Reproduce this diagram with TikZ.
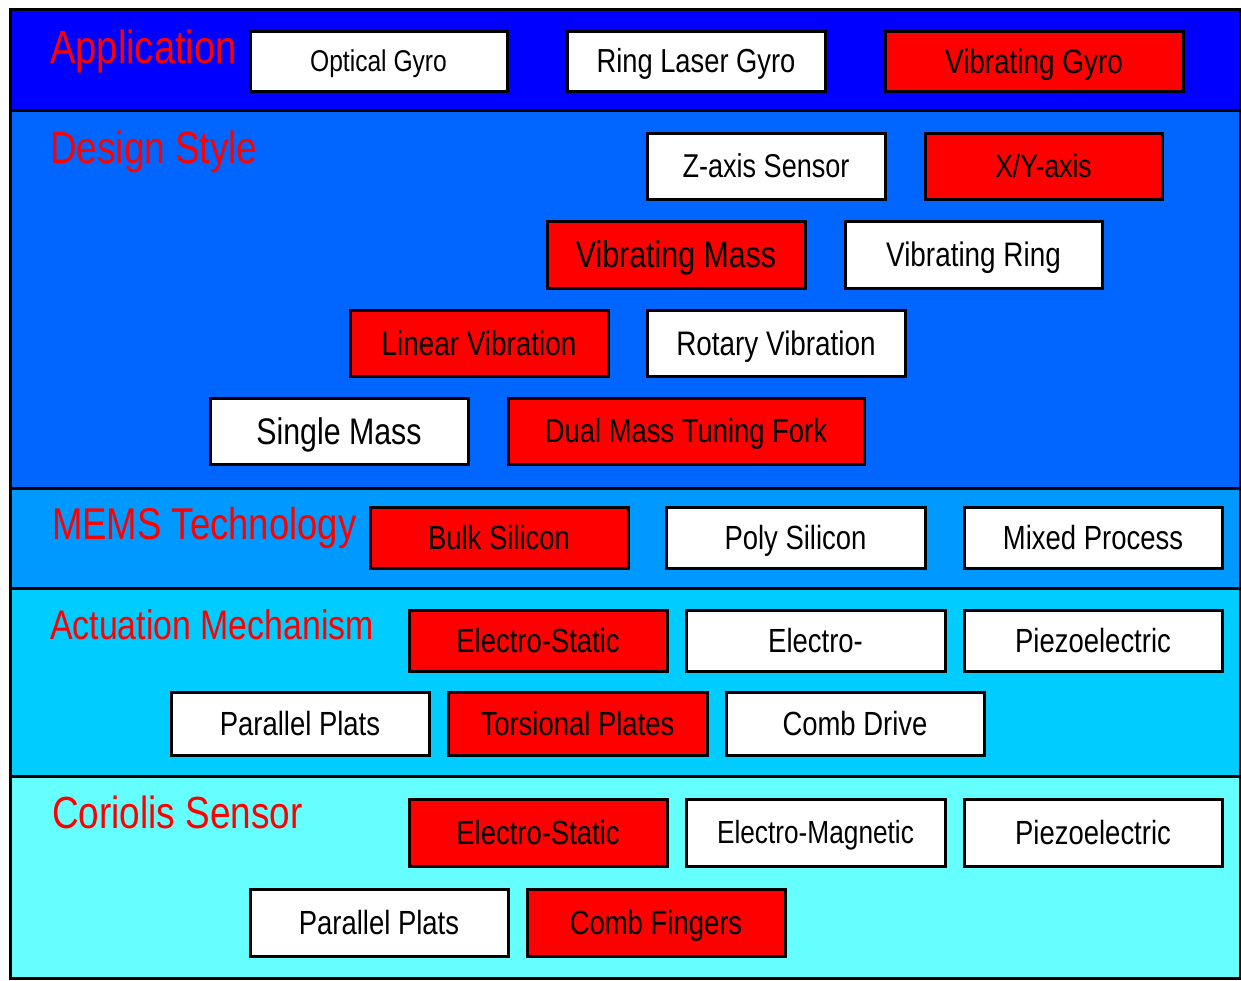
\documentclass[tikz,border=0pt]{standalone}
\usepackage{fontspec}
\setmainfont{Liberation Sans}[FakeStretch=0.82]
\definecolor{bandA}{HTML}{0000FF}
\definecolor{bandB}{HTML}{0066FF}
\definecolor{bandC}{HTML}{0099FF}
\definecolor{bandD}{HTML}{00CCFF}
\definecolor{bandE}{HTML}{66FFFF}
\definecolor{boxred}{HTML}{FF0000}
\newcommand\fsz[1]{\fontsize{#1}{#1}\selectfont}
\newcommand\ctxt[1]{\raisebox{-0.358em}{#1}}
\tikzset{
  cell/.style={draw=black, line width=3pt, inner sep=0pt, text height=0pt, text depth=0pt, font=\fsz{33.5}},
  wbox/.style={cell, fill=white},
  rbox/.style={cell, fill=boxred},
  layerlabel/.style={anchor=base west, inner sep=0pt, text=boxred},
  frame/.style={draw=black, line width=3pt}
}
\begin{document}
\begin{tikzpicture}[x=1pt,y=-1pt]
\useasboundingbox (0,0) rectangle (1241,980);
% bands
\fill[bandA] (10,9) rectangle (1240,110);
\fill[bandB] (10,110) rectangle (1240,488);
\fill[bandC] (10,488) rectangle (1240,588);
\fill[bandD] (10,588) rectangle (1240,776);
\fill[bandE] (10,776) rectangle (1240,978);
\draw[frame] (10,9) rectangle (1240,978);
\draw[frame] (10,110) -- (1240,110);
\draw[frame] (10,488) -- (1240,488);
\draw[frame] (10,588) -- (1240,588);
\draw[frame] (10,776) -- (1240,776);
% layer labels
\node[layerlabel, font=\fsz{46.5}] (lapp) at (50,63) {Application};
\node[layerlabel, font=\fsz{45}] (ldes) at (50,163) {Design Style};
\node[layerlabel, font=\fsz{44.5}] (lmems) at (52,539) {MEMS Technology};
\node[layerlabel, font=\fsz{41.3}] (lact) at (50,639) {Actuation Mechanism};
\node[layerlabel, font=\fsz{45}] (lcor) at (52,828) {Coriolis Sensor};
% Application
\node[wbox, minimum width=257pt, minimum height=60pt, font=\fsz{30}] (og) at (378.5,61) {\ctxt{Optical Gyro}};
\node[wbox, minimum width=258pt, minimum height=60pt, font=\fsz{33.3}] (rlg) at (696,61) {\ctxt{Ring Laser Gyro}};
\node[rbox, minimum width=298pt, minimum height=60pt, font=\fsz{34}] (vg) at (1034,61) {\ctxt{Vibrating Gyro}};
% Design style
\node[wbox, minimum width=238pt, minimum height=66pt, font=\fsz{33}] (zax) at (766,166) {\ctxt{Z-axis Sensor}};
\node[rbox, minimum width=237pt, minimum height=66pt, font=\fsz{32.4}] (xyax) at (1043.5,166) {\ctxt{X/Y-axis}};
\node[rbox, minimum width=258pt, minimum height=67pt, font=\fsz{37}] (vm) at (676,254.5) {\ctxt{Vibrating Mass}};
\node[wbox, minimum width=257pt, minimum height=67pt, font=\fsz{34}] (vr) at (973.5,254.5) {\ctxt{Vibrating Ring}};
\node[rbox, minimum width=258pt, minimum height=66pt, font=\fsz{34}] (lv) at (479,343) {\ctxt{Linear Vibration}};
\node[wbox, minimum width=258pt, minimum height=66pt, font=\fsz{34}] (rv) at (776,343) {\ctxt{Rotary Vibration}};
\node[wbox, minimum width=258pt, minimum height=66pt, font=\fsz{37}] (sm) at (339,431) {\ctxt{Single Mass}};
\node[rbox, minimum width=356pt, minimum height=66pt, font=\fsz{33.4}] (dm) at (686,431) {\ctxt{Dual Mass Tuning Fork}};
% MEMS technology
\node[rbox, minimum width=258pt, minimum height=61pt] (bs) at (499,537.5) {\ctxt{Bulk Silicon}};
\node[wbox, minimum width=259pt, minimum height=61pt] (ps) at (795.5,537.5) {\ctxt{Poly Silicon}};
\node[wbox, minimum width=258pt, minimum height=61pt] (mp) at (1093,537.5) {\ctxt{Mixed Process}};
% Actuation
\node[rbox, minimum width=258pt, minimum height=61pt] (aes) at (538,640.5) {\ctxt{Electro-Static}};
\node[wbox, minimum width=259pt, minimum height=61pt] (ael) at (815.5,640.5) {\ctxt{Electro-}};
\node[wbox, minimum width=258pt, minimum height=61pt] (apz) at (1093,640.5) {\ctxt{Piezoelectric}};
\node[wbox, minimum width=258pt, minimum height=63pt] (app) at (300,723.5) {\ctxt{Parallel Plats}};
\node[rbox, minimum width=259pt, minimum height=63pt] (atp) at (577.5,723.5) {\ctxt{Torsional Plates}};
\node[wbox, minimum width=258pt, minimum height=63pt] (acd) at (855,723.5) {\ctxt{Comb Drive}};
% Coriolis
\node[rbox, minimum width=258pt, minimum height=67pt] (ces) at (538,832.5) {\ctxt{Electro-Static}};
\node[wbox, minimum width=259pt, minimum height=67pt, font=\fsz{32}] (cem) at (815.5,832.5) {\ctxt{Electro-Magnetic}};
\node[wbox, minimum width=258pt, minimum height=67pt] (cpz) at (1093,832.5) {\ctxt{Piezoelectric}};
\node[wbox, minimum width=258pt, minimum height=67pt] (cpp) at (379,922.5) {\ctxt{Parallel Plats}};
\node[rbox, minimum width=258pt, minimum height=67pt] (ccf) at (656,922.5) {\ctxt{Comb Fingers}};
\end{tikzpicture}
\end{document}
